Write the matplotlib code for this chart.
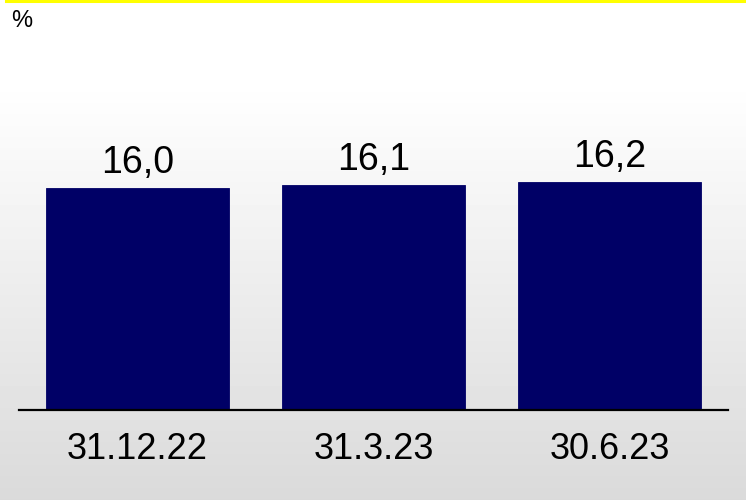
import numpy as np
import matplotlib
matplotlib.use("Agg")
import matplotlib.pyplot as plt

plt.rcParams['font.family'] = ['Liberation Sans', 'DejaVu Sans']

categories = ["31.12.22", "31.3.23", "30.6.23"]
values = [16.0, 16.1, 16.2]
value_labels = ["16,0", "16,1", "16,2"]

W, H = 746, 500
fig = plt.figure(figsize=(W / 100, H / 100), dpi=100)

# background: white at the top fading to light grey towards the bottom
bg = fig.add_axes([0, 0, 1, 1], zorder=-2)
rows = np.arange(H)
shade = np.clip(255 - (rows - 80) / (H - 80) * 37, 218, 255) / 255.0
img = np.repeat(shade[:, None], 2, axis=1)
bg.imshow(img, cmap="gray", vmin=0, vmax=1, aspect="auto", extent=[0, 1, 1, 0])
bg.set_xlim(0, 1)
bg.set_ylim(1, 0)
bg.axis("off")

# yellow rule along the top
fig.add_artist(plt.Line2D([6 / W, 1.0], [1 - 1 / H, 1 - 1 / H], color="#ffff00", lw=2.2,
                          transform=fig.transFigure))

ax = fig.add_axes([19 / W, 90 / H, (728 - 19) / W, 400 / H])
ax.patch.set_alpha(0)
x = np.arange(len(categories))
bars = ax.bar(x, values, width=0.775, color="#000066", edgecolor="#000066", linewidth=0.6)
ax.set_xlim(-0.502, 2.502)
ax.set_ylim(8.6, 8.6 + 400 / 30)

for s in ["top", "right", "left"]:
    ax.spines[s].set_visible(False)
ax.spines["bottom"].set_linewidth(1.6)
ax.spines["bottom"].set_color("black")
ax.set_yticks([])
ax.set_xticks(x)
ax.set_xticklabels(categories, fontsize=26)
ax.tick_params(axis="x", length=0, pad=16)

for xi, v, lab in zip(x, values, value_labels):
    ax.annotate(lab, (xi, v), xytext=(0, 5), textcoords="offset points",
                ha="center", va="bottom", fontsize=27)

fig.text(11 / W, 1 - 21 / H, "%", fontsize=17, va="center", ha="left")

fig.savefig("out.png", dpi=100)
